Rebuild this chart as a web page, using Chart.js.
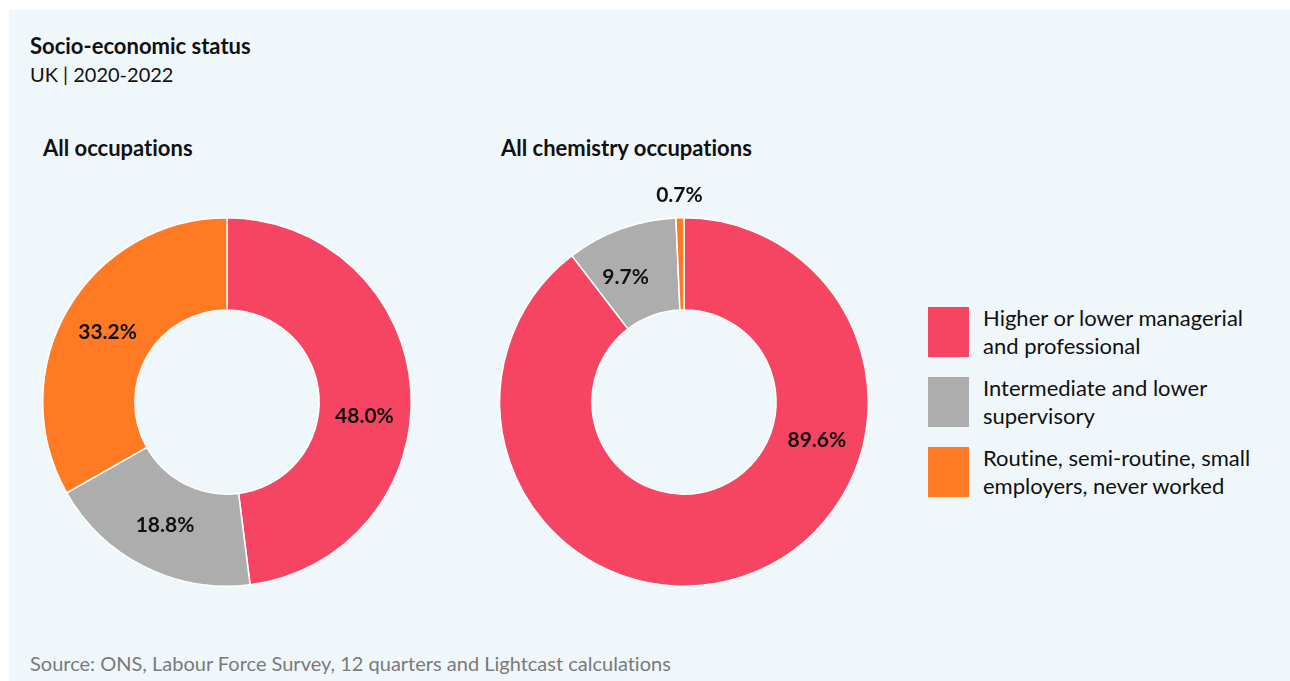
<!DOCTYPE html>
<html>
<head>
<meta charset="utf-8">
<script src="https://cdn.jsdelivr.net/npm/chart.js@4"></script>
<style>
  body { margin: 0; background: #ffffff; font-family: Lato, "Noto Sans", sans-serif; color: #111; font-variant-ligatures: none; }
  #panel { position: absolute; left: 9px; top: 10px; width: 1281px; height: 671px; background: #f0f7fa; }
  .title { position: absolute; left: 21px; top: 22px; font-size: 22px; font-weight: 700; }
  .subtitle { position: absolute; left: 21px; top: 52px; font-size: 20px; }
  .chartTitle { position: absolute; top: 124px; font-size: 22px; font-weight: 700; }
  .source { position: absolute; left: 21px; top: 641px; font-size: 20px; color: #7a7a7a; }
  canvas { position: absolute; }
  #legend { position: absolute; left: 919px; top: 297px; }
  .item { position: relative; height: 70px; }
  .swatch { position: absolute; left: 0; top: 0; width: 41px; height: 50px; }
  .label { position: absolute; left: 55px; top: -3px; font-size: 22px; line-height: 28px; width: 330px; }
</style>
</head>
<body>
<div id="panel">
  <div class="title">Socio-economic status</div>
  <div class="subtitle">UK | 2020-2022</div>
  <div class="chartTitle" style="left:34px">All occupations</div>
  <div class="chartTitle" style="left:492px">All chemistry occupations</div>
  <div id="legend"></div>
  <div class="source">Source: ONS, Labour Force Survey, 12 quarters and Lightcast calculations</div>
</div>
<canvas id="allChart" width="450" height="450" style="left:2px;top:177px"></canvas>
<canvas id="chemChart" width="450" height="450" style="left:459px;top:177px"></canvas>

<script>
// Categories and shares (%)
const categories = [
  ["Higher or lower managerial", "and professional"],
  ["Intermediate and lower", "supervisory"],
  ["Routine, semi-routine, small", "employers, never worked"]
];
const allOccupations = [48.0, 18.8, 33.2];
const chemistryOccupations = [89.6, 9.7, 0.7];
const colors = ["#f54563", "#adadad", "#ff7a22"];

// Label placement per slice: angle in degrees from top (null = slice middle), outside = past the ring
const allLabelPos = [{ angle: 96 }, {}, {}];
const chemLabelPos = [{ angle: 106 }, { angle: 335 }, { outside: true }];

// Draws the percentage on each slice
const sliceLabels = {
  id: "sliceLabels",
  afterDatasetsDraw(chart, args, opts) {
    const ctx = chart.ctx;
    const meta = chart.getDatasetMeta(0);
    const values = chart.data.datasets[0].data;
    ctx.save();
    ctx.font = "bold 21px Lato, 'Noto Sans', sans-serif";
    ctx.fillStyle = "#111";
    ctx.textAlign = "center";
    ctx.textBaseline = "middle";
    meta.data.forEach((arc, i) => {
      const p = arc.getProps(["x", "y", "startAngle", "endAngle", "innerRadius", "outerRadius"], true);
      const pos = (opts.positions || [])[i] || {};
      let a = (p.startAngle + p.endAngle) / 2;
      if (pos.angle != null) a = (pos.angle - 90) * Math.PI / 180;
      const r = pos.outside ? p.outerRadius + 23 : (p.innerRadius + p.outerRadius) / 2;
      ctx.fillText(values[i].toFixed(1) + "%", p.x + Math.cos(a) * r, p.y + Math.sin(a) * r);
    });
    ctx.restore();
  }
};

function makeDoughnut(id, values, positions) {
  return new Chart(document.getElementById(id), {
    type: "doughnut",
    data: {
      labels: categories.map(c => c.join(" ")),
      datasets: [{
        data: values,
        backgroundColor: colors,
        borderColor: "#ffffff",
        borderWidth: 1.5
      }]
    },
    options: {
      responsive: false,
      animation: false,
      cutout: "50%",
      layout: { padding: 40 },
      plugins: {
        legend: { display: false },
        tooltip: { enabled: false },
        sliceLabels: { positions: positions }
      }
    },
    plugins: [sliceLabels]
  });
}

makeDoughnut("allChart", allOccupations, allLabelPos);
makeDoughnut("chemChart", chemistryOccupations, chemLabelPos);

// Legend built from the same categories and colours
const legend = document.getElementById("legend");
categories.forEach((lines, i) => {
  const item = document.createElement("div");
  item.className = "item";
  item.innerHTML = '<div class="swatch" style="background:' + colors[i] + '"></div>' +
    '<div class="label">' + lines.join("<br>") + "</div>";
  legend.appendChild(item);
});
</script>
</body>
</html>
